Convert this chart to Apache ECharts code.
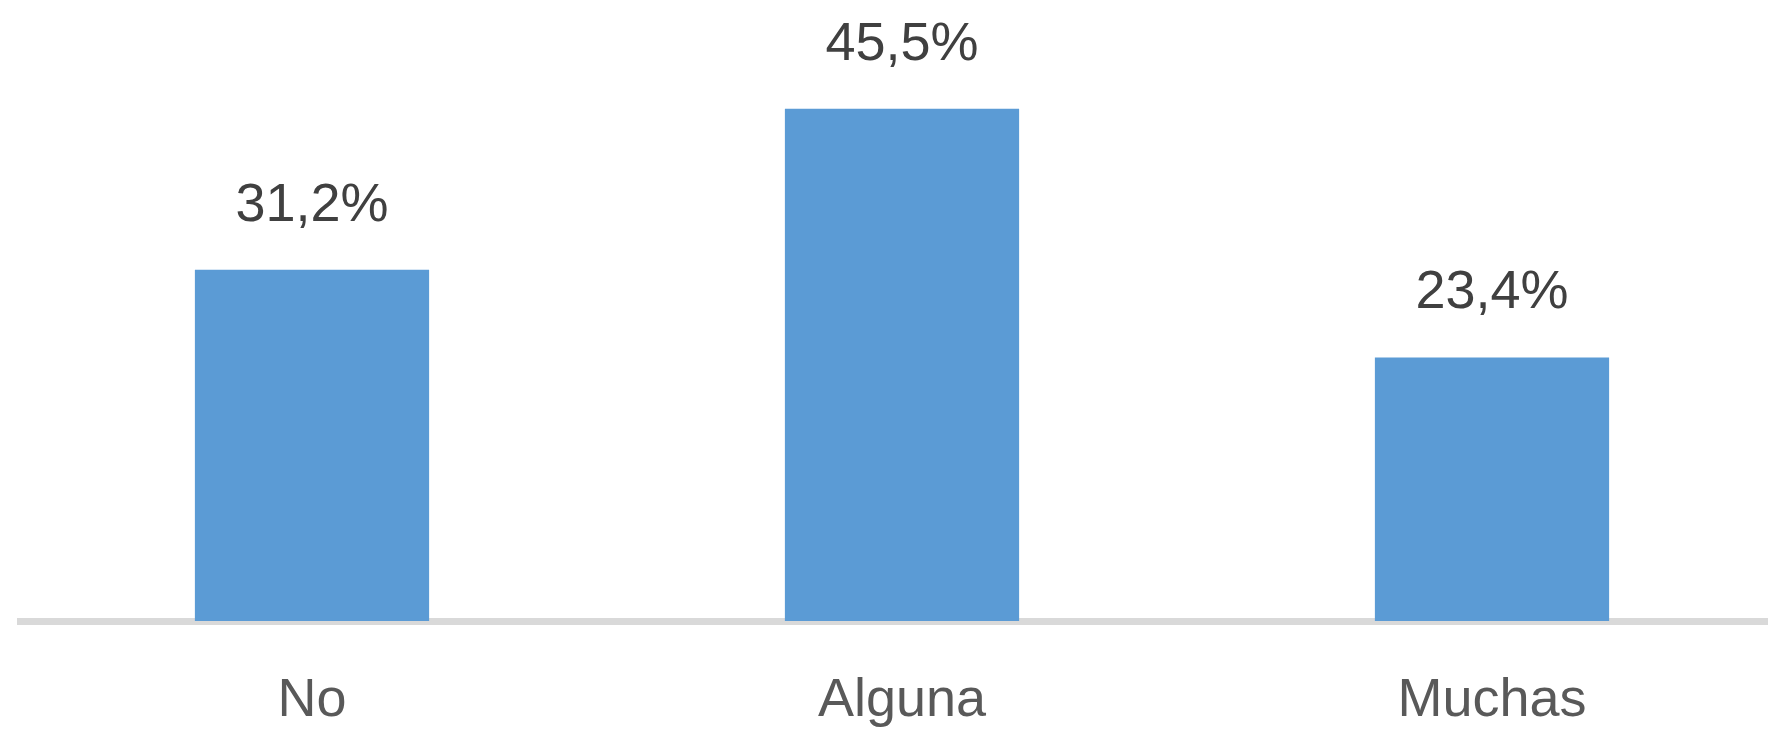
<!DOCTYPE html>
<html>
<head>
<meta charset="utf-8">
<script src="https://cdn.jsdelivr.net/npm/echarts@6/dist/echarts.min.js"></script>
<style>
  html, body { margin: 0; padding: 0; background: #fff; }
  #chart { width: 1768px; height: 731px; }
</style>
</head>
<body>
<div id="chart"></div>
<script>
// 数据
var categories = ['No', 'Alguna', 'Muchas'];
var values = [31.2, 45.5, 23.4];

function drawChart() {
  var myChart = echarts.init(document.getElementById('chart'));
  var option = {
    animation: false,
    grid: {
      left: 17,
      top: 58,
      width: 1770,
      bottom: 110,
      containLabel: false,
      outerBoundsMode: 'none'
    },
    xAxis: {
      type: 'category',
      data: categories,
      offset: 3.5,
      axisTick: { show: false },
      axisLine: {
        lineStyle: { color: '#d9d9d9', width: 7, cap: 'butt' }
      },
      axisLabel: {
        color: '#595959',
        fontFamily: 'Liberation Sans',
        fontSize: 54,
        margin: 50
      }
    },
    yAxis: {
      type: 'value',
      min: 0,
      max: 50,
      show: false,
      splitLine: { show: false }
    },
    series: [
      {
        type: 'bar',
        barWidth: '39.7%',
        itemStyle: { color: '#5b9bd5' },
        label: {
          show: true,
          position: 'top',
          distance: 37,
          color: '#404040',
          fontFamily: 'Liberation Sans',
          fontSize: 54,
          formatter: function (p) {
            return p.value.toFixed(1).replace('.', ',') + '%';
          }
        },
        data: values
      }
    ]
  };
  myChart.setOption(option);
  window.addEventListener('resize', function () {
    myChart.resize();
  });
}
drawChart();
</script>
</body>
</html>
